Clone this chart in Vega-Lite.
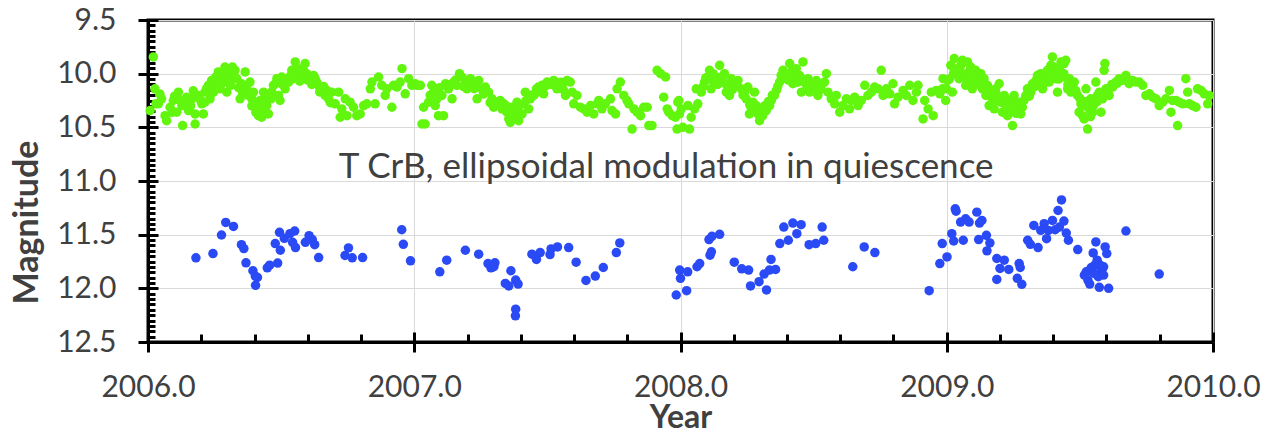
{
  "$schema": "https://vega.github.io/schema/vega-lite/v6.json",
  "autosize": "none",
  "width": 1065,
  "height": 322,
  "padding": {"left": 148, "top": 20, "right": 54, "bottom": 91},
  "background": "white",
  "config": {"view": {"stroke": "black", "strokeWidth": 3}},
  "datasets": {
    "green": [
      {"year":2006.020,"mag":9.844},{"year":2006.008,"mag":10.344},{"year":2006.026,"mag":10.141},{"year":2006.039,"mag":10.281},{"year":2006.051,"mag":10.234},{"year":2006.064,"mag":10.391},{"year":2006.070,"mag":10.438},{"year":2006.083,"mag":10.313},{"year":2006.095,"mag":10.250},{"year":2006.114,"mag":10.172},{"year":2006.108,"mag":10.359},{"year":2006.127,"mag":10.297},{"year":2006.130,"mag":10.484},{"year":2006.139,"mag":10.281},{"year":2006.152,"mag":10.344},{"year":2006.164,"mag":10.234},{"year":2006.177,"mag":10.469},{"year":2006.177,"mag":10.375},{"year":2006.189,"mag":10.203},{"year":2006.202,"mag":10.281},{"year":2006.208,"mag":10.375},{"year":2006.214,"mag":10.172},{"year":2006.227,"mag":10.109},{"year":2006.233,"mag":10.234},{"year":2006.239,"mag":10.063},{"year":2006.246,"mag":10.172},{"year":2006.258,"mag":10.078},{"year":2006.264,"mag":9.984},{"year":2006.271,"mag":10.141},{"year":2006.283,"mag":10.031},{"year":2006.289,"mag":9.938},{"year":2006.296,"mag":10.172},{"year":2006.302,"mag":10.078},{"year":2006.308,"mag":9.984},{"year":2006.317,"mag":9.938},{"year":2006.327,"mag":9.969},{"year":2006.333,"mag":10.047},{"year":2006.346,"mag":10.234},{"year":2006.352,"mag":10.094},{"year":2006.365,"mag":9.984},{"year":2006.371,"mag":10.141},{"year":2006.383,"mag":10.078},{"year":2006.390,"mag":10.234},{"year":2006.402,"mag":10.281},{"year":2006.409,"mag":10.328},{"year":2006.415,"mag":10.391},{"year":2006.421,"mag":10.250},{"year":2006.427,"mag":10.406},{"year":2006.434,"mag":10.172},{"year":2006.440,"mag":10.344},{"year":2006.446,"mag":10.297},{"year":2006.452,"mag":10.375},{"year":2006.462,"mag":10.234},{"year":2006.471,"mag":10.109},{"year":2006.484,"mag":10.047},{"year":2006.490,"mag":10.203},{"year":2006.496,"mag":10.250},{"year":2006.502,"mag":10.031},{"year":2006.515,"mag":10.141},{"year":2006.528,"mag":10.078},{"year":2006.540,"mag":9.969},{"year":2006.546,"mag":10.047},{"year":2006.553,"mag":9.891},{"year":2006.565,"mag":9.953},{"year":2006.578,"mag":10.031},{"year":2006.590,"mag":9.906},{"year":2006.596,"mag":10.000},{"year":2006.609,"mag":10.047},{"year":2006.622,"mag":10.016},{"year":2006.634,"mag":10.078},{"year":2006.640,"mag":10.109},{"year":2006.653,"mag":10.141},{"year":2006.665,"mag":10.203},{"year":2006.678,"mag":10.234},{"year":2006.690,"mag":10.172},{"year":2006.703,"mag":10.281},{"year":2006.716,"mag":10.172},{"year":2006.722,"mag":10.406},{"year":2006.728,"mag":10.328},{"year":2006.741,"mag":10.234},{"year":2006.747,"mag":10.391},{"year":2006.759,"mag":10.266},{"year":2006.772,"mag":10.313},{"year":2006.784,"mag":10.391},{"year":2006.797,"mag":10.375},{"year":2006.810,"mag":10.297},{"year":2006.822,"mag":10.281},{"year":2006.835,"mag":10.141},{"year":2006.841,"mag":10.078},{"year":2006.853,"mag":10.281},{"year":2006.866,"mag":10.031},{"year":2006.878,"mag":10.109},{"year":2006.891,"mag":10.203},{"year":2006.897,"mag":10.141},{"year":2006.916,"mag":10.313},{"year":2006.922,"mag":10.109},{"year":2006.935,"mag":10.125},{"year":2006.947,"mag":10.078},{"year":2006.954,"mag":9.953},{"year":2006.966,"mag":10.188},{"year":2006.979,"mag":10.047},{"year":2006.991,"mag":10.109},{"year":2007.004,"mag":10.094},
      {"year":2006.214,"mag":10.266},{"year":2006.252,"mag":10.125},{"year":2006.277,"mag":10.094},{"year":2006.314,"mag":10.047},{"year":2006.396,"mag":10.172},{"year":2006.421,"mag":10.344},{"year":2006.440,"mag":10.250},{"year":2006.559,"mag":10.016},{"year":2006.584,"mag":9.969},{"year":2006.628,"mag":10.047},{"year":2006.672,"mag":10.156},
      {"year":2006.030,"mag":10.28},{"year":2006.045,"mag":10.19},{"year":2006.090,"mag":10.36},{"year":2006.100,"mag":10.21},{"year":2006.120,"mag":10.25},{"year":2006.145,"mag":10.22},{"year":2006.160,"mag":10.30},{"year":2006.170,"mag":10.16},{"year":2006.195,"mag":10.24},{"year":2006.220,"mag":10.14},{"year":2006.235,"mag":10.19},{"year":2006.255,"mag":10.03},{"year":2006.270,"mag":10.06},{"year":2006.295,"mag":10.00},{"year":2006.310,"mag":10.11},{"year":2006.325,"mag":10.04},{"year":2006.340,"mag":10.13},{"year":2006.355,"mag":10.18},{"year":2006.375,"mag":10.20},{"year":2006.390,"mag":10.30},{"year":2006.405,"mag":10.36},{"year":2006.430,"mag":10.31},{"year":2006.445,"mag":10.22},{"year":2006.465,"mag":10.17},{"year":2006.480,"mag":10.09},{"year":2006.505,"mag":10.10},{"year":2006.520,"mag":10.06},{"year":2006.535,"mag":10.02},{"year":2006.570,"mag":10.07},{"year":2006.600,"mag":10.06},{"year":2006.615,"mag":10.10},{"year":2006.645,"mag":10.17},{"year":2006.660,"mag":10.12},{"year":2006.685,"mag":10.27},
      {"year":2007.010,"mag":10.109},{"year":2007.023,"mag":10.109},{"year":2007.035,"mag":10.313},{"year":2007.029,"mag":10.469},{"year":2007.041,"mag":10.469},{"year":2007.054,"mag":10.266},{"year":2007.066,"mag":10.109},{"year":2007.073,"mag":10.172},{"year":2007.079,"mag":10.297},{"year":2007.091,"mag":10.391},{"year":2007.085,"mag":10.234},{"year":2007.104,"mag":10.203},{"year":2007.110,"mag":10.391},{"year":2007.117,"mag":10.094},{"year":2007.129,"mag":10.141},{"year":2007.142,"mag":10.234},{"year":2007.148,"mag":10.078},{"year":2007.160,"mag":10.109},{"year":2007.170,"mag":10.000},{"year":2007.179,"mag":10.031},{"year":2007.192,"mag":10.078},{"year":2007.198,"mag":10.141},{"year":2007.211,"mag":10.047},{"year":2007.217,"mag":10.109},{"year":2007.229,"mag":10.094},{"year":2007.236,"mag":10.234},{"year":2007.242,"mag":10.063},{"year":2007.254,"mag":10.141},{"year":2007.267,"mag":10.125},{"year":2007.279,"mag":10.172},{"year":2007.292,"mag":10.234},{"year":2007.298,"mag":10.313},{"year":2007.311,"mag":10.266},{"year":2007.323,"mag":10.250},{"year":2007.336,"mag":10.281},{"year":2007.348,"mag":10.359},{"year":2007.355,"mag":10.422},{"year":2007.361,"mag":10.453},{"year":2007.367,"mag":10.313},{"year":2007.380,"mag":10.375},{"year":2007.386,"mag":10.266},{"year":2007.392,"mag":10.438},{"year":2007.405,"mag":10.375},{"year":2007.411,"mag":10.281},{"year":2007.417,"mag":10.172},{"year":2007.430,"mag":10.328},{"year":2007.436,"mag":10.234},{"year":2007.449,"mag":10.203},{"year":2007.459,"mag":10.141},{"year":2007.467,"mag":10.125},{"year":2007.480,"mag":10.109},{"year":2007.486,"mag":10.188},{"year":2007.499,"mag":10.078},{"year":2007.511,"mag":10.094},{"year":2007.524,"mag":10.063},{"year":2007.536,"mag":10.141},{"year":2007.543,"mag":10.094},{"year":2007.555,"mag":10.109},{"year":2007.568,"mag":10.203},{"year":2007.574,"mag":10.063},{"year":2007.586,"mag":10.078},{"year":2007.593,"mag":10.172},{"year":2007.599,"mag":10.281},{"year":2007.611,"mag":10.203},{"year":2007.624,"mag":10.313},{"year":2007.637,"mag":10.328},{"year":2007.649,"mag":10.359},{"year":2007.662,"mag":10.297},{"year":2007.674,"mag":10.375},{"year":2007.687,"mag":10.281},{"year":2007.693,"mag":10.250},{"year":2007.705,"mag":10.328},{"year":2007.718,"mag":10.281},{"year":2007.737,"mag":10.234},{"year":2007.743,"mag":10.344},{"year":2007.756,"mag":10.375},{"year":2007.762,"mag":10.141},{"year":2007.774,"mag":10.078},{"year":2007.787,"mag":10.203},{"year":2007.799,"mag":10.250},{"year":2007.806,"mag":10.281},{"year":2007.818,"mag":10.516},{"year":2007.825,"mag":10.328},{"year":2007.837,"mag":10.359},{"year":2007.850,"mag":10.391},{"year":2007.862,"mag":10.313},{"year":2007.875,"mag":10.313},{"year":2007.881,"mag":10.484},{"year":2007.893,"mag":10.484},{"year":2007.912,"mag":9.969},{"year":2007.925,"mag":10.000},{"year":2007.944,"mag":10.031},{"year":2007.937,"mag":10.219},{"year":2007.950,"mag":10.328},{"year":2007.956,"mag":10.359},{"year":2007.969,"mag":10.391},{"year":2007.981,"mag":10.406},{"year":2007.987,"mag":10.516},{"year":2007.994,"mag":10.250},
      {"year":2007.060,"mag":10.20},{"year":2007.095,"mag":10.13},{"year":2007.135,"mag":10.10},{"year":2007.155,"mag":10.06},{"year":2007.185,"mag":10.12},{"year":2007.205,"mag":10.08},{"year":2007.225,"mag":10.14},{"year":2007.260,"mag":10.19},{"year":2007.285,"mag":10.27},{"year":2007.305,"mag":10.30},{"year":2007.330,"mag":10.33},{"year":2007.345,"mag":10.30},{"year":2007.370,"mag":10.40},{"year":2007.390,"mag":10.33},{"year":2007.420,"mag":10.25},{"year":2007.440,"mag":10.20},{"year":2007.455,"mag":10.18},{"year":2007.470,"mag":10.16},{"year":2007.490,"mag":10.12},{"year":2007.505,"mag":10.10},{"year":2007.520,"mag":10.10},{"year":2007.550,"mag":10.08},{"year":2007.560,"mag":10.15},
      {"year":2007.990,"mag":10.266},{"year":2007.996,"mag":10.375},{"year":2008.003,"mag":10.328},{"year":2008.009,"mag":10.500},{"year":2008.028,"mag":10.297},{"year":2008.034,"mag":10.516},{"year":2008.040,"mag":10.406},{"year":2008.053,"mag":10.328},{"year":2008.059,"mag":10.141},{"year":2008.065,"mag":10.281},{"year":2008.078,"mag":10.172},{"year":2008.090,"mag":10.078},{"year":2008.103,"mag":10.031},{"year":2008.109,"mag":9.969},{"year":2008.115,"mag":10.141},{"year":2008.122,"mag":10.000},{"year":2008.134,"mag":10.031},{"year":2008.147,"mag":9.922},{"year":2008.159,"mag":10.078},{"year":2008.165,"mag":10.000},{"year":2008.172,"mag":10.172},{"year":2008.184,"mag":10.203},{"year":2008.190,"mag":10.047},{"year":2008.203,"mag":10.109},{"year":2008.216,"mag":10.063},{"year":2008.228,"mag":10.141},{"year":2008.241,"mag":10.172},{"year":2008.247,"mag":10.234},{"year":2008.253,"mag":10.125},{"year":2008.259,"mag":10.375},{"year":2008.266,"mag":10.313},{"year":2008.272,"mag":10.266},{"year":2008.278,"mag":10.172},{"year":2008.284,"mag":10.297},{"year":2008.291,"mag":10.375},{"year":2008.297,"mag":10.438},{"year":2008.303,"mag":10.344},{"year":2008.309,"mag":10.391},{"year":2008.322,"mag":10.344},{"year":2008.335,"mag":10.297},{"year":2008.341,"mag":10.250},{"year":2008.353,"mag":10.203},{"year":2008.360,"mag":10.156},{"year":2008.372,"mag":10.078},{"year":2008.378,"mag":10.016},{"year":2008.385,"mag":9.969},{"year":2008.397,"mag":10.047},{"year":2008.410,"mag":9.906},{"year":2008.416,"mag":9.984},{"year":2008.422,"mag":10.094},{"year":2008.435,"mag":9.953},{"year":2008.447,"mag":10.016},{"year":2008.454,"mag":10.172},{"year":2008.460,"mag":9.891},{"year":2008.466,"mag":10.078},{"year":2008.479,"mag":10.047},{"year":2008.485,"mag":10.172},{"year":2008.497,"mag":10.109},{"year":2008.510,"mag":10.063},{"year":2008.516,"mag":10.203},{"year":2008.529,"mag":10.109},{"year":2008.541,"mag":10.078},{"year":2008.548,"mag":10.000},{"year":2008.554,"mag":10.172},{"year":2008.566,"mag":10.234},{"year":2008.579,"mag":10.281},{"year":2008.585,"mag":10.203},{"year":2008.598,"mag":10.359},{"year":2008.610,"mag":10.297},{"year":2008.623,"mag":10.234},{"year":2008.635,"mag":10.328},{"year":2008.642,"mag":10.250},{"year":2008.654,"mag":10.219},{"year":2008.667,"mag":10.297},{"year":2008.679,"mag":10.250},{"year":2008.692,"mag":10.109},{"year":2008.704,"mag":10.203},{"year":2008.717,"mag":10.172},{"year":2008.729,"mag":10.125},{"year":2008.742,"mag":10.141},{"year":2008.754,"mag":9.969},{"year":2008.761,"mag":10.203},{"year":2008.773,"mag":10.141},{"year":2008.786,"mag":10.188},{"year":2008.798,"mag":10.094},{"year":2008.804,"mag":10.281},{"year":2008.817,"mag":10.219},{"year":2008.836,"mag":10.156},{"year":2008.848,"mag":10.203},{"year":2008.861,"mag":10.109},{"year":2008.873,"mag":10.250},{"year":2008.886,"mag":10.172},{"year":2008.892,"mag":10.109},{"year":2008.911,"mag":10.422},{"year":2008.917,"mag":10.250},{"year":2008.930,"mag":10.328},{"year":2008.942,"mag":10.172},{"year":2008.949,"mag":10.391},{"year":2008.961,"mag":10.156},{"year":2008.974,"mag":10.188},{"year":2008.986,"mag":10.047},{"year":2008.999,"mag":10.141},
      {"year":2008.085,"mag":10.12},{"year":2008.095,"mag":10.04},{"year":2008.120,"mag":10.06},{"year":2008.140,"mag":10.10},{"year":2008.155,"mag":10.03},{"year":2008.175,"mag":10.11},{"year":2008.195,"mag":10.15},{"year":2008.210,"mag":10.09},{"year":2008.235,"mag":10.20},{"year":2008.260,"mag":10.29},{"year":2008.275,"mag":10.35},{"year":2008.290,"mag":10.33},{"year":2008.315,"mag":10.30},{"year":2008.330,"mag":10.26},{"year":2008.345,"mag":10.20},{"year":2008.365,"mag":10.12},{"year":2008.390,"mag":10.02},{"year":2008.405,"mag":10.06},{"year":2008.425,"mag":10.02},{"year":2008.440,"mag":10.08},{"year":2008.455,"mag":10.05},{"year":2008.475,"mag":10.12},{"year":2008.490,"mag":10.09},{"year":2008.505,"mag":10.13},{"year":2008.525,"mag":10.15},
      {"year":2008.984,"mag":10.141},{"year":2008.996,"mag":10.250},{"year":2009.003,"mag":10.063},{"year":2009.015,"mag":9.922},{"year":2009.021,"mag":10.172},{"year":2009.028,"mag":9.859},{"year":2009.034,"mag":10.000},{"year":2009.040,"mag":9.953},{"year":2009.046,"mag":10.047},{"year":2009.053,"mag":9.922},{"year":2009.059,"mag":9.875},{"year":2009.065,"mag":10.031},{"year":2009.071,"mag":10.109},{"year":2009.078,"mag":9.891},{"year":2009.084,"mag":9.984},{"year":2009.090,"mag":9.938},{"year":2009.096,"mag":10.141},{"year":2009.103,"mag":10.047},{"year":2009.109,"mag":9.969},{"year":2009.115,"mag":10.016},{"year":2009.122,"mag":10.078},{"year":2009.128,"mag":10.000},{"year":2009.134,"mag":10.141},{"year":2009.140,"mag":10.047},{"year":2009.147,"mag":10.203},{"year":2009.153,"mag":10.109},{"year":2009.159,"mag":10.297},{"year":2009.165,"mag":10.172},{"year":2009.172,"mag":10.234},{"year":2009.178,"mag":10.328},{"year":2009.184,"mag":10.141},{"year":2009.190,"mag":10.203},{"year":2009.197,"mag":10.094},{"year":2009.203,"mag":10.266},{"year":2009.209,"mag":10.359},{"year":2009.216,"mag":10.203},{"year":2009.222,"mag":10.297},{"year":2009.228,"mag":10.391},{"year":2009.234,"mag":10.250},{"year":2009.241,"mag":10.344},{"year":2009.247,"mag":10.484},{"year":2009.253,"mag":10.203},{"year":2009.259,"mag":10.313},{"year":2009.266,"mag":10.266},{"year":2009.278,"mag":10.375},{"year":2009.284,"mag":10.313},{"year":2009.297,"mag":10.203},{"year":2009.303,"mag":10.141},{"year":2009.316,"mag":10.172},{"year":2009.322,"mag":10.094},{"year":2009.335,"mag":10.063},{"year":2009.341,"mag":10.016},{"year":2009.347,"mag":10.109},{"year":2009.353,"mag":10.000},{"year":2009.360,"mag":10.141},{"year":2009.366,"mag":10.047},{"year":2009.372,"mag":10.016},{"year":2009.378,"mag":9.969},{"year":2009.385,"mag":10.078},{"year":2009.391,"mag":9.922},{"year":2009.397,"mag":9.844},{"year":2009.403,"mag":9.938},{"year":2009.410,"mag":10.047},{"year":2009.416,"mag":10.172},{"year":2009.422,"mag":9.953},{"year":2009.429,"mag":9.891},{"year":2009.435,"mag":10.031},{"year":2009.441,"mag":9.906},{"year":2009.447,"mag":9.875},{"year":2009.454,"mag":10.141},{"year":2009.460,"mag":10.047},{"year":2009.466,"mag":10.172},{"year":2009.479,"mag":10.078},{"year":2009.491,"mag":10.203},{"year":2009.497,"mag":10.359},{"year":2009.504,"mag":10.281},{"year":2009.510,"mag":10.391},{"year":2009.516,"mag":10.422},{"year":2009.523,"mag":10.141},{"year":2009.529,"mag":10.516},{"year":2009.535,"mag":10.328},{"year":2009.541,"mag":10.234},{"year":2009.548,"mag":10.359},{"year":2009.554,"mag":10.281},{"year":2009.560,"mag":10.078},{"year":2009.566,"mag":10.203},{"year":2009.573,"mag":10.172},{"year":2009.579,"mag":10.359},{"year":2009.585,"mag":10.234},{"year":2009.591,"mag":9.969},{"year":2009.594,"mag":9.906},{"year":2009.598,"mag":10.141},{"year":2009.610,"mag":10.203},{"year":2009.623,"mag":10.125},{"year":2009.635,"mag":10.078},{"year":2009.648,"mag":10.047},{"year":2009.660,"mag":10.063},{"year":2009.673,"mag":10.016},{"year":2009.685,"mag":10.094},{"year":2009.698,"mag":10.063},{"year":2009.710,"mag":10.078},{"year":2009.723,"mag":10.078},{"year":2009.736,"mag":10.109},{"year":2009.748,"mag":10.203},{"year":2009.761,"mag":10.188},{"year":2009.773,"mag":10.219},{"year":2009.786,"mag":10.234},{"year":2009.798,"mag":10.297},{"year":2009.811,"mag":10.266},{"year":2009.823,"mag":10.234},{"year":2009.836,"mag":10.156},{"year":2009.842,"mag":10.359},{"year":2009.848,"mag":10.250},{"year":2009.861,"mag":10.250},{"year":2009.867,"mag":10.484},{"year":2009.873,"mag":10.266},{"year":2009.886,"mag":10.281},{"year":2009.898,"mag":10.047},{"year":2009.905,"mag":10.172},{"year":2009.911,"mag":10.281},{"year":2009.923,"mag":10.297},{"year":2009.936,"mag":10.313},{"year":2009.942,"mag":10.141},{"year":2009.955,"mag":10.156},{"year":2009.967,"mag":10.188},{"year":2009.980,"mag":10.281},{"year":2009.986,"mag":10.203},
      {"year":2009.010,"mag":10.05},{"year":2009.025,"mag":10.00},{"year":2009.045,"mag":9.97},{"year":2009.060,"mag":10.00},{"year":2009.075,"mag":10.05},{"year":2009.095,"mag":10.06},{"year":2009.110,"mag":10.10},{"year":2009.130,"mag":10.08},{"year":2009.145,"mag":10.15},{"year":2009.170,"mag":10.18},{"year":2009.185,"mag":10.25},{"year":2009.205,"mag":10.22},{"year":2009.225,"mag":10.33},{"year":2009.245,"mag":10.30},{"year":2009.260,"mag":10.37},{"year":2009.290,"mag":10.25},{"year":2009.310,"mag":10.21},{"year":2009.330,"mag":10.12},{"year":2009.345,"mag":10.07},{"year":2009.365,"mag":10.09},{"year":2009.380,"mag":10.03},{"year":2009.395,"mag":9.98},{"year":2009.405,"mag":10.00},{"year":2009.420,"mag":10.05},{"year":2009.440,"mag":10.00},{"year":2009.455,"mag":10.10},{"year":2009.470,"mag":10.12},{"year":2009.485,"mag":10.16},{"year":2009.500,"mag":10.23},{"year":2009.515,"mag":10.30},{"year":2009.525,"mag":10.26},{"year":2009.540,"mag":10.40},{"year":2009.550,"mag":10.30},{"year":2009.565,"mag":10.26},{"year":2009.575,"mag":10.22},{"year":2009.590,"mag":10.18},{"year":2009.605,"mag":10.16},{"year":2009.620,"mag":10.10},{"year":2009.640,"mag":10.09}
    ],
    "blue": [
      {"year":2006.180,"mag":11.716},{"year":2006.244,"mag":11.676},{"year":2006.276,"mag":11.503},{"year":2006.292,"mag":11.386},{"year":2006.321,"mag":11.423},{"year":2006.351,"mag":11.593},{"year":2006.360,"mag":11.630},{"year":2006.368,"mag":11.762},{"year":2006.394,"mag":11.836},{"year":2006.403,"mag":11.886},{"year":2006.411,"mag":11.898},{"year":2006.404,"mag":11.972},{"year":2006.448,"mag":11.809},{"year":2006.457,"mag":11.784},{"year":2006.487,"mag":11.765},{"year":2006.478,"mag":11.583},{"year":2006.497,"mag":11.645},{"year":2006.494,"mag":11.478},{"year":2006.512,"mag":11.534},{"year":2006.533,"mag":11.491},{"year":2006.551,"mag":11.466},{"year":2006.543,"mag":11.571},{"year":2006.554,"mag":11.620},{"year":2006.591,"mag":11.571},{"year":2006.605,"mag":11.509},{"year":2006.617,"mag":11.546},{"year":2006.626,"mag":11.593},{"year":2006.641,"mag":11.713},{"year":2006.740,"mag":11.694},{"year":2006.753,"mag":11.623},{"year":2006.767,"mag":11.716},{"year":2006.806,"mag":11.713},{"year":2006.953,"mag":11.454},{"year":2006.959,"mag":11.590},{"year":2006.986,"mag":11.744},{"year":2007.096,"mag":11.846},{"year":2007.122,"mag":11.738},{"year":2007.192,"mag":11.645},{"year":2007.242,"mag":11.682},{"year":2007.277,"mag":11.769},{"year":2007.288,"mag":11.809},{"year":2007.303,"mag":11.762},{"year":2007.299,"mag":11.799},{"year":2007.363,"mag":11.836},{"year":2007.342,"mag":11.954},{"year":2007.355,"mag":11.978},{"year":2007.381,"mag":11.923},{"year":2007.390,"mag":11.960},{"year":2007.381,"mag":12.194},{"year":2007.380,"mag":12.256},{"year":2007.442,"mag":11.682},{"year":2007.459,"mag":11.731},{"year":2007.473,"mag":11.667},{"year":2007.510,"mag":11.685},{"year":2007.514,"mag":11.633},{"year":2007.538,"mag":11.614},{"year":2007.580,"mag":11.620},{"year":2007.608,"mag":11.756},{"year":2007.645,"mag":11.926},{"year":2007.680,"mag":11.886},{"year":2007.710,"mag":11.806},{"year":2007.759,"mag":11.667},{"year":2007.772,"mag":11.577},
      {"year":2007.984,"mag":12.062},{"year":2007.997,"mag":11.830},{"year":2008.000,"mag":11.907},{"year":2008.027,"mag":11.846},{"year":2008.023,"mag":12.022},{"year":2008.062,"mag":11.799},{"year":2008.072,"mag":11.769},{"year":2008.111,"mag":11.691},{"year":2008.116,"mag":11.660},{"year":2008.107,"mag":11.546},{"year":2008.118,"mag":11.515},{"year":2008.147,"mag":11.497},{"year":2008.202,"mag":11.756},{"year":2008.230,"mag":11.818},{"year":2008.256,"mag":11.830},{"year":2008.263,"mag":11.978},{"year":2008.295,"mag":11.938},{"year":2008.323,"mag":12.015},{"year":2008.314,"mag":11.867},{"year":2008.334,"mag":11.830},{"year":2008.357,"mag":11.824},{"year":2008.340,"mag":11.731},{"year":2008.373,"mag":11.583},{"year":2008.388,"mag":11.429},{"year":2008.405,"mag":11.552},{"year":2008.422,"mag":11.392},{"year":2008.437,"mag":11.491},{"year":2008.453,"mag":11.407},{"year":2008.483,"mag":11.593},{"year":2008.508,"mag":11.583},{"year":2008.532,"mag":11.429},{"year":2008.538,"mag":11.552},{"year":2008.647,"mag":11.799},{"year":2008.690,"mag":11.614},{"year":2008.730,"mag":11.667},{"year":2008.934,"mag":12.022},{"year":2008.974,"mag":11.769},{"year":2009.001,"mag":11.707},{"year":2008.983,"mag":11.583},{"year":2009.019,"mag":11.491},{"year":2009.026,"mag":11.559},{"year":2009.032,"mag":11.259},{"year":2009.035,"mag":11.281},{"year":2009.052,"mag":11.383},{"year":2009.062,"mag":11.552},{"year":2009.071,"mag":11.352},{"year":2009.084,"mag":11.383},{"year":2009.113,"mag":11.290},{"year":2009.123,"mag":11.392},{"year":2009.132,"mag":11.367},{"year":2009.120,"mag":11.546},{"year":2009.149,"mag":11.506},{"year":2009.162,"mag":11.577},{"year":2009.151,"mag":11.651},{"year":2009.188,"mag":11.722},{"year":2009.216,"mag":11.738},{"year":2009.200,"mag":11.815},{"year":2009.233,"mag":11.824},{"year":2009.188,"mag":11.917},{"year":2009.272,"mag":11.769},{"year":2009.276,"mag":11.806},{"year":2009.265,"mag":11.907},{"year":2009.282,"mag":11.963},{"year":2009.304,"mag":11.552},{"year":2009.314,"mag":11.590},{"year":2009.343,"mag":11.620},{"year":2009.327,"mag":11.414},{"year":2009.353,"mag":11.460},{"year":2009.366,"mag":11.398},{"year":2009.375,"mag":11.537},{"year":2009.382,"mag":11.460},{"year":2009.397,"mag":11.367},{"year":2009.407,"mag":11.454},{"year":2009.418,"mag":11.275},{"year":2009.431,"mag":11.176},{"year":2009.423,"mag":11.429},{"year":2009.440,"mag":11.373},{"year":2009.449,"mag":11.485},{"year":2009.457,"mag":11.552},{"year":2009.492,"mag":11.639},{"year":2009.524,"mag":11.846},{"year":2009.530,"mag":11.923},{"year":2009.537,"mag":11.960},{"year":2009.543,"mag":11.806},{"year":2009.550,"mag":11.670},{"year":2009.560,"mag":11.568},{"year":2009.565,"mag":11.738},{"year":2009.573,"mag":11.991},{"year":2009.582,"mag":11.830},{"year":2009.589,"mag":11.877},{"year":2009.595,"mag":11.614},{"year":2009.601,"mag":11.676},{"year":2009.608,"mag":12.000},{"year":2009.556,"mag":11.784},{"year":2009.569,"mag":11.892},{"year":2009.517,"mag":11.877},{"year":2009.537,"mag":11.830},{"year":2009.576,"mag":11.784},{"year":2009.553,"mag":11.860},{"year":2009.589,"mag":11.800},{"year":2009.673,"mag":11.466},{"year":2009.798,"mag":11.867}
    ],
    "note": [{"label": "T CrB, ellipsoidal modulation in quiescence", "year": 2007.946, "mag": 10.97}]
  },
  "resolve": {"axis": {"x": "independent", "y": "independent"}},
  "layer": [
    {
      "data": {"name": "green"},
      "mark": {"type": "circle", "size": 90, "opacity": 1, "color": "#62f50e"},
      "encoding": {
        "x": {"field": "year", "type": "quantitative",
          "scale": {"domain": [2006, 2010], "nice": false, "zero": false},
          "axis": {"values": [2006, 2007, 2008, 2009, 2010], "format": ".1f", "grid": true, "gridColor": "#d9d9d9", "gridWidth": 1,
            "domainColor": "black", "domainWidth": 3, "tickColor": "black", "tickWidth": 3, "tickSize": 10,
            "labelFont": "Lato", "labelFontSize": 30, "labelColor": "#404040", "labelPadding": 20, "labelFlush": false, "labelOverlap": false,
            "title": "Year", "titleFont": "Lato", "titleFontSize": 32, "titleFontWeight": "bold", "titleColor": "#404040", "titleY": 60, "titleBaseline": "top"}},
        "y": {"field": "mag", "type": "quantitative",
          "scale": {"domain": [9.5, 12.5], "reverse": true, "nice": false, "zero": false},
          "axis": {"values": [9.5, 10, 10.5, 11, 11.5, 12, 12.5], "format": ".1f", "grid": true, "gridColor": "#d9d9d9", "gridWidth": 1,
            "domainColor": "black", "domainWidth": 3, "tickColor": "black", "tickWidth": 3, "tickSize": 10,
            "labelFont": "Lato", "labelFontSize": 30, "labelColor": "#404040", "labelPadding": 22, "labelOverlap": false,
            "title": "Magnitude", "titleFont": "Lato", "titleFontSize": 34, "titleFontWeight": "bold", "titleColor": "#404040", "titlePadding": 12, "titleY": 202}}
      }
    },
    {
      "data": {"name": "blue"},
      "mark": {"type": "circle", "size": 90, "opacity": 1, "color": "#2a4af5"},
      "encoding": {
        "x": {"field": "year", "type": "quantitative",
          "scale": {"domain": [2006, 2010], "nice": false, "zero": false},
          "axis": {"orient": "bottom", "values": [2006, 2007, 2008, 2009, 2010], "labels": false, "grid": false, "domain": false, "title": null,
            "tickColor": "black", "tickWidth": 3, "tickSize": -10}},
        "y": {"field": "mag", "type": "quantitative",
          "scale": {"domain": [9.5, 12.5], "reverse": true, "nice": false, "zero": false},
          "axis": {"orient": "left", "values": [9.5, 10, 10.5, 11, 11.5, 12, 12.5], "labels": false, "grid": false, "domain": false, "title": null,
            "tickColor": "black", "tickWidth": 3, "tickSize": -10}}
      }
    },
    {
      "data": {"name": "note"},
      "mark": {"type": "text", "font": "Lato", "fontSize": 35, "color": "#404040", "align": "center", "baseline": "alphabetic"},
      "encoding": {
        "text": {"field": "label"},
        "x": {"field": "year", "type": "quantitative",
          "scale": {"domain": [2006, 2010], "nice": false, "zero": false},
          "axis": {"orient": "bottom", "values": [2006.2, 2006.4, 2006.6, 2006.8, 2007.2, 2007.4, 2007.6, 2007.8, 2008.2, 2008.4, 2008.6, 2008.8, 2009.2, 2009.4, 2009.6, 2009.8], "labels": false, "grid": false, "domain": false, "title": null,
            "tickColor": "black", "tickWidth": 3, "tickSize": -8}},
        "y": {"field": "mag", "type": "quantitative",
          "scale": {"domain": [9.5, 12.5], "reverse": true, "nice": false, "zero": false},
          "axis": {"orient": "left", "values": [9.55, 9.6, 9.65, 9.7, 9.75, 9.8, 9.85, 9.9, 9.95, 10.05, 10.1, 10.15, 10.2, 10.25, 10.3, 10.35, 10.4, 10.45, 10.55, 10.6, 10.65, 10.7, 10.75, 10.8, 10.85, 10.9, 10.95, 11.05, 11.1, 11.15, 11.2, 11.25, 11.3, 11.35, 11.4, 11.45, 11.55, 11.6, 11.65, 11.7, 11.75, 11.8, 11.85, 11.9, 11.95, 12.05, 12.1, 12.15, 12.2, 12.25, 12.3, 12.35, 12.4, 12.45], "labels": false, "grid": false, "domain": false, "title": null,
            "tickColor": "black", "tickWidth": 3, "tickSize": -7}}
      }
    }
  ]
}
